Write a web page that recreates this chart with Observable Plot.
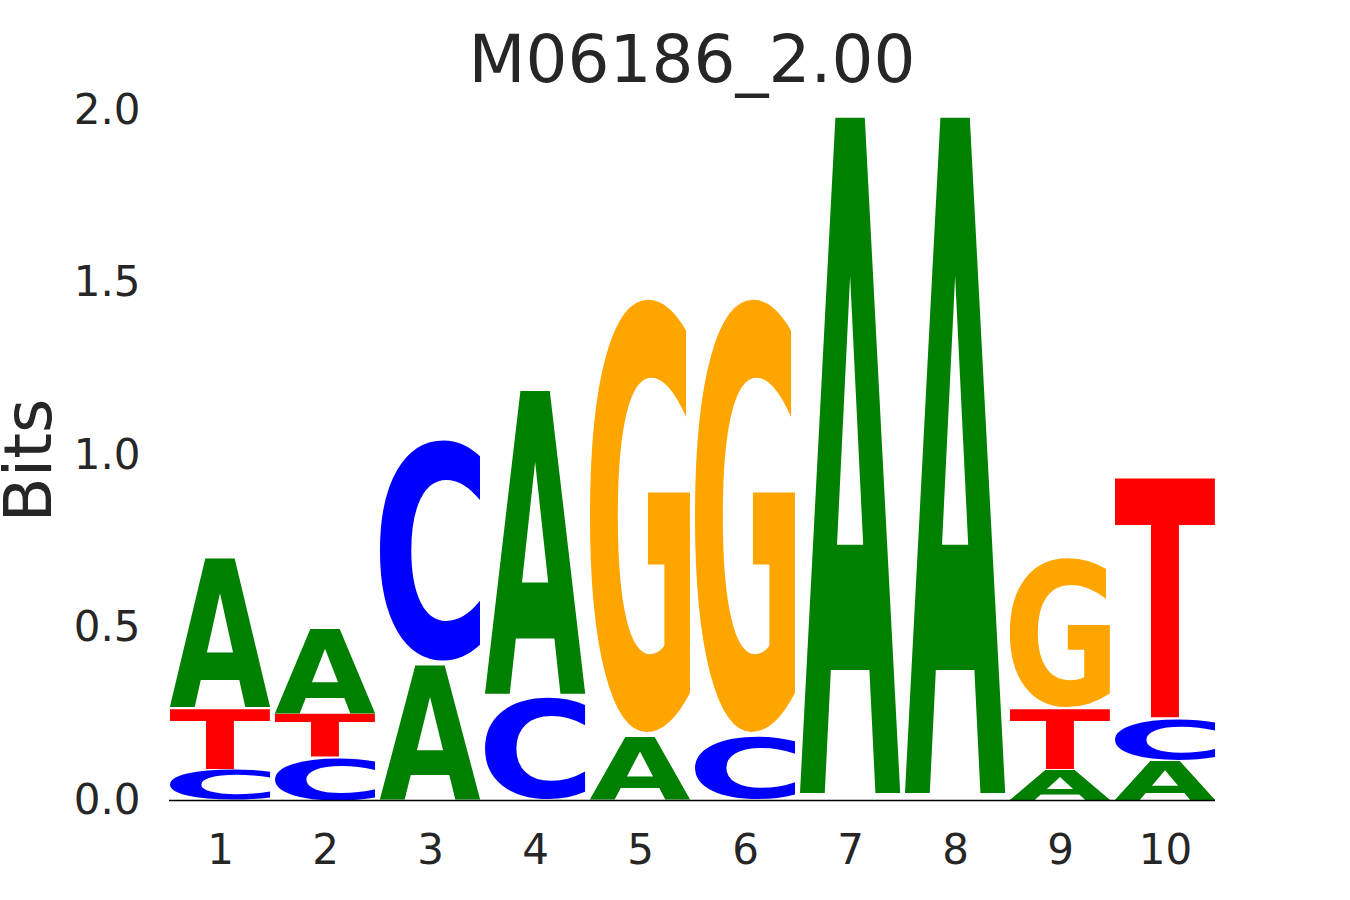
<!DOCTYPE html>
<html>
<head>
<meta charset="utf-8">
<script src="https://cdn.jsdelivr.net/npm/d3@7"></script>
<script src="https://cdn.jsdelivr.net/npm/@observablehq/plot@0.6"></script>
<style>
  body { margin: 0; background: #fff; font-family: "DejaVu Sans", sans-serif; }
  #wrap { position: relative; width: 1350px; height: 900px; }
  #title { position: absolute; left: 169px; width: 1046px; top: 27px; text-align: center;
           font-size: 66px; line-height: 66px; color: #262626; font-family: "DejaVu Sans", sans-serif; }
</style>
</head>
<body>
<div id="wrap">
  <div id="chart"></div>
  <div id="title">M06186_2.00</div>
</div>
<script>
// ---- data (bits per letter at each position) ----
const positions = [1, 2, 3, 4, 5, 6, 7, 8, 9, 10];
const letters = ["A", "C", "G", "T"];
const bitsA = [0.438, 0.251, 0.397, 0.897, 0.183, 0.000, 2.000, 2.000, 0.088, 0.115];
const bitsC = [0.088, 0.123, 0.652, 0.299, 0.000, 0.183, 0.000, 0.000, 0.000, 0.118];
const bitsG = [0.000, 0.000, 0.000, 0.000, 1.280, 1.280, 0.000, 0.000, 0.438, 0.000];
const bitsT = [0.177, 0.127, 0.000, 0.000, 0.000, 0.000, 0.000, 0.000, 0.177, 0.707];
const letterColors = ["green", "blue", "orange", "red"];
const yTicks = [0, 0.5, 1.0, 1.5, 2.0];
const title = "M06186_2.00";
const yLabel = "Bits";
const vpad = 0.02; // fraction of each letter's height left blank (half above, half below)

// ---- build stacked table (smallest at the bottom) ----
const series = {A: bitsA, C: bitsC, G: bitsG, T: bitsT};
const rows = [];
positions.forEach((p, i) => {
  const col = letters.map(l => ({letter: l, h: series[l][i]})).sort((a, b) => a.h - b.h);
  let base = 0;
  for (const c of col) {
    rows.push({pos: p, letter: c.letter, h: c.h, y1: base, y2: base + c.h});
    base += c.h;
  }
});
const drawn = rows.filter(d => d.h > 0);

document.getElementById("title").textContent = title;

const plot = Plot.plot({
  width: 1350,
  height: 900,
  marginLeft: 169,
  marginRight: 135,
  marginTop: 110,
  marginBottom: 100,
  style: {fontFamily: "DejaVu Sans", background: "transparent"},
  x: {type: "band", domain: positions, paddingInner: 0.05, paddingOuter: 0},
  y: {domain: [0, 2]},
  color: {domain: letters, range: letterColors},
  marks: [
    Plot.axisY({ticks: yTicks, tickFormat: d3.format(".1f"), tickSize: 0, tickPadding: 29,
                fontSize: 42, color: "#262626", label: null}),
    Plot.axisX({tickSize: 0, tickPadding: 34, fontSize: 42, color: "#262626", label: null}),
    Plot.text([yLabel], {frameAnchor: "left", dx: -119, dy: 5, rotate: -90, lineAnchor: "bottom",
                         fontSize: 66, fill: "#262626", textAnchor: "middle"}),
    Plot.text(drawn, {x: "pos", y: d => (d.y1 + d.y2) / 2, text: "letter", fill: "letter",
                      fontSize: 100, fontWeight: "bold"}),
    Plot.ruleY([0], {stroke: "black", strokeWidth: 1.6})
  ]
});
document.getElementById("chart").appendChild(plot);

// ---- measure each glyph's ink box by scanning its pixels ----
const FS = 400, CW = 800, CH = 800, OX = 200, OY = 600;
const cv = document.createElement("canvas");
cv.width = CW; cv.height = CH;
const ctx = cv.getContext("2d", {willReadFrequently: true});
const inkCache = {};
function ink(ch) {
  if (inkCache[ch]) return inkCache[ch];
  ctx.clearRect(0, 0, CW, CH);
  ctx.font = `bold ${FS}px 'DejaVu Sans'`;
  ctx.textBaseline = "alphabetic";
  ctx.textAlign = "left";
  ctx.fillStyle = "#000";
  ctx.fillText(ch, OX, OY);
  const data = ctx.getImageData(0, 0, CW, CH).data;
  let minX = CW, maxX = -1, minY = CH, maxY = -1;
  for (let y = 0; y < CH; y++) {
    for (let x = 0; x < CW; x++) {
      if (data[(y * CW + x) * 4 + 3] >= 128) {
        if (x < minX) minX = x;
        if (x > maxX) maxX = x;
        if (y < minY) minY = y;
        if (y > maxY) maxY = y;
      }
    }
  }
  let r;
  if (maxX < 0) {
    const m = ctx.measureText(ch);
    r = {L: m.actualBoundingBoxLeft, R: m.actualBoundingBoxRight,
         A: m.actualBoundingBoxAscent, D: m.actualBoundingBoxDescent};
  } else {
    r = {L: OX - minX, R: maxX + 1 - OX, A: OY - minY, D: maxY + 1 - OY};
  }
  inkCache[ch] = r;
  return r;
}
const xs = plot.scale("x"), ys = plot.scale("y");
const xStart = v => (xs.apply ? xs.apply(v) : d3.scaleBand(xs.domain, xs.range).paddingInner(0.05).paddingOuter(0)(v));
const yPix = v => (ys.apply ? ys.apply(v) : d3.scaleLinear(ys.domain, ys.range)(v));
const groups = Array.from(plot.querySelectorAll("g"));
const logoGroup = groups.find(g => g.querySelectorAll("text").length === drawn.length &&
  Array.from(g.querySelectorAll("text")).every(t => letters.includes(t.textContent)));
let offX = 0, offY = 0;
if (logoGroup && logoGroup.transform && logoGroup.transform.baseVal.numberOfItems) {
  const mtx = logoGroup.transform.baseVal.consolidate().matrix;
  offX = mtx.e; offY = mtx.f;
}
const texts = logoGroup ? Array.from(logoGroup.querySelectorAll("text")) : [];
texts.forEach((t, i) => {
  const d = drawn[i];
  const x0 = xStart(d.pos) - offX, bw = xs.bandwidth;
  const pad = d.h * vpad / 2;
  const yTop = yPix(d.y2 - pad) - offY, yBot = yPix(d.y1 + pad) - offY;
  const h = Math.max(yBot - yTop, 0.1);
  const m = ink(d.letter);
  const sx = bw / (m.L + m.R), sy = h / (m.A + m.D);
  t.removeAttribute("dy");
  t.setAttribute("x", 0);
  t.setAttribute("y", 0);
  t.setAttribute("text-anchor", "start");
  t.setAttribute("font-size", `${FS}px`);
  t.setAttribute("font-weight", "bold");
  t.setAttribute("font-family", "DejaVu Sans");
  t.setAttribute("transform", `translate(${x0},${yTop}) scale(${sx},${sy}) translate(${m.L},${m.A})`);
});
</script>
</body>
</html>
